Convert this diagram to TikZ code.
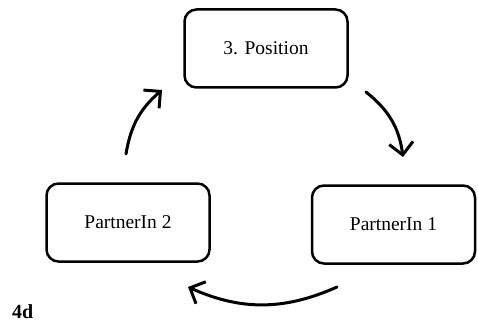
\documentclass[tikz,border=0pt]{standalone}
\usepackage{fontspec}
\setmainfont{Liberation Serif}
\usetikzlibrary{arrows.meta}

\begin{document}
\begin{tikzpicture}
      [x=1pt,y=1pt,
        box/.style={draw,line width=2.5pt,rounded corners=12pt,
          minimum width=163pt,minimum height=78pt,
          font=\fontsize{19.5}{23}\selectfont},
        flow/.style={line width=3pt,line cap=round,
          -{Straight Barb[length=12pt,width=24pt,line width=3pt]}}]
  \useasboundingbox (0,0) rectangle (478,324);
  \node[box] (pos) at (266,275.5) {3. Position};
  \node[box] (p2) at (128,101.5) {PartnerIn 2};
  \node[box] (p1) at (393.5,99.5) {PartnerIn 1};
  \node[anchor=base west,inner sep=0pt,
    font=\fontsize{20}{24}\selectfont\bfseries] (tag) at (12,6) {4d};
  \coordinate (a) at (366,232);
  \coordinate (b) at (403,167);
  \coordinate (c) at (337,37);
  \coordinate (d) at (188,37);
  \coordinate (e) at (126,170);
  \coordinate (f) at (162,234);
  \draw[flow] (a) to[bend left=22] (b);
  \draw[flow] (c) to[bend left=24] (d);
  \draw[flow] (e) to[bend left=20] (f);
 \end{tikzpicture}
\end{document}
